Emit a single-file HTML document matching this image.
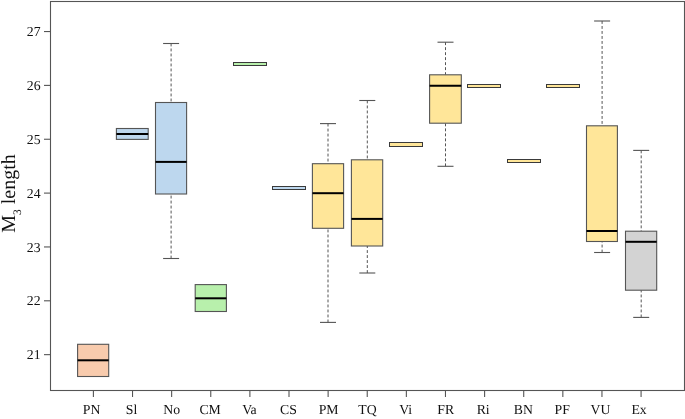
<!DOCTYPE html>
<html><head><meta charset="utf-8"><style>
html,body{margin:0;padding:0;background:#fff;overflow:hidden;}
svg{display:block;will-change:transform;text-rendering:geometricPrecision;}
.t{font-family:"Liberation Serif",serif;font-size:13.75px;fill:#111;}
.ttl{font-family:"Liberation Serif",serif;font-size:20px;fill:#111;}
.sub{font-size:11.5px;}
</style></head><body>
<svg width="685" height="419" viewBox="0 0 685 419">
<rect x="50.5" y="1.5" width="634" height="389" fill="none" stroke="#555555" stroke-width="1.1"/>
<line x1="44" y1="354.65" x2="50.5" y2="354.65" stroke="#555555" stroke-width="1.1"/>
<text x="40.6" y="359.25" text-anchor="end" class="t">21</text>
<line x1="44" y1="300.80" x2="50.5" y2="300.80" stroke="#555555" stroke-width="1.1"/>
<text x="40.6" y="305.40" text-anchor="end" class="t">22</text>
<line x1="44" y1="246.95" x2="50.5" y2="246.95" stroke="#555555" stroke-width="1.1"/>
<text x="40.6" y="251.55" text-anchor="end" class="t">23</text>
<line x1="44" y1="193.10" x2="50.5" y2="193.10" stroke="#555555" stroke-width="1.1"/>
<text x="40.6" y="197.70" text-anchor="end" class="t">24</text>
<line x1="44" y1="139.25" x2="50.5" y2="139.25" stroke="#555555" stroke-width="1.1"/>
<text x="40.6" y="143.85" text-anchor="end" class="t">25</text>
<line x1="44" y1="85.40" x2="50.5" y2="85.40" stroke="#555555" stroke-width="1.1"/>
<text x="40.6" y="90.00" text-anchor="end" class="t">26</text>
<line x1="44" y1="31.55" x2="50.5" y2="31.55" stroke="#555555" stroke-width="1.1"/>
<text x="40.6" y="36.15" text-anchor="end" class="t">27</text>
<line x1="93.40" y1="390.5" x2="93.40" y2="397" stroke="#555555" stroke-width="1.1"/>
<text x="91.60" y="414.3" text-anchor="middle" class="t">PN</text>
<line x1="132.52" y1="390.5" x2="132.52" y2="397" stroke="#555555" stroke-width="1.1"/>
<text x="131.52" y="414.3" text-anchor="middle" class="t">Sl</text>
<line x1="171.64" y1="390.5" x2="171.64" y2="397" stroke="#555555" stroke-width="1.1"/>
<text x="171.64" y="414.3" text-anchor="middle" class="t">No</text>
<line x1="210.76" y1="390.5" x2="210.76" y2="397" stroke="#555555" stroke-width="1.1"/>
<text x="210.16" y="414.3" text-anchor="middle" class="t">CM</text>
<line x1="249.88" y1="390.5" x2="249.88" y2="397" stroke="#555555" stroke-width="1.1"/>
<text x="249.48" y="414.3" text-anchor="middle" class="t">Va</text>
<line x1="289.00" y1="390.5" x2="289.00" y2="397" stroke="#555555" stroke-width="1.1"/>
<text x="288.50" y="414.3" text-anchor="middle" class="t">CS</text>
<line x1="328.12" y1="390.5" x2="328.12" y2="397" stroke="#555555" stroke-width="1.1"/>
<text x="328.62" y="414.3" text-anchor="middle" class="t">PM</text>
<line x1="367.24" y1="390.5" x2="367.24" y2="397" stroke="#555555" stroke-width="1.1"/>
<text x="367.44" y="414.3" text-anchor="middle" class="t">TQ</text>
<line x1="406.36" y1="390.5" x2="406.36" y2="397" stroke="#555555" stroke-width="1.1"/>
<text x="405.66" y="414.3" text-anchor="middle" class="t">Vi</text>
<line x1="445.48" y1="390.5" x2="445.48" y2="397" stroke="#555555" stroke-width="1.1"/>
<text x="445.68" y="414.3" text-anchor="middle" class="t">FR</text>
<line x1="484.60" y1="390.5" x2="484.60" y2="397" stroke="#555555" stroke-width="1.1"/>
<text x="483.20" y="414.3" text-anchor="middle" class="t">Ri</text>
<line x1="523.72" y1="390.5" x2="523.72" y2="397" stroke="#555555" stroke-width="1.1"/>
<text x="523.32" y="414.3" text-anchor="middle" class="t">BN</text>
<line x1="562.84" y1="390.5" x2="562.84" y2="397" stroke="#555555" stroke-width="1.1"/>
<text x="562.24" y="414.3" text-anchor="middle" class="t">PF</text>
<line x1="601.96" y1="390.5" x2="601.96" y2="397" stroke="#555555" stroke-width="1.1"/>
<text x="600.46" y="414.3" text-anchor="middle" class="t">VU</text>
<line x1="641.08" y1="390.5" x2="641.08" y2="397" stroke="#555555" stroke-width="1.1"/>
<text x="639.08" y="414.3" text-anchor="middle" class="t">Ex</text>
<rect x="77.60" y="344.30" width="31.10" height="32.20" fill="#F8CBAD" stroke="#555555" stroke-width="1.1"/>
<line x1="77.60" y1="360.30" x2="108.70" y2="360.30" stroke="#000" stroke-width="2"/>
<rect x="116.40" y="128.50" width="31.80" height="10.90" fill="#BDD7EE" stroke="#555555" stroke-width="1.1"/>
<line x1="116.40" y1="134.00" x2="148.20" y2="134.00" stroke="#000" stroke-width="2"/>
<line x1="171.10" y1="43.50" x2="171.10" y2="102.50" stroke="#555555" stroke-width="1" stroke-dasharray="2.9 2.1"/>
<line x1="171.10" y1="258.50" x2="171.10" y2="194.00" stroke="#555555" stroke-width="1" stroke-dasharray="2.9 2.1"/>
<line x1="163.10" y1="43.50" x2="179.10" y2="43.50" stroke="#555555" stroke-width="1.1"/>
<line x1="163.10" y1="258.50" x2="179.10" y2="258.50" stroke="#555555" stroke-width="1.1"/>
<rect x="155.50" y="102.50" width="31.10" height="91.50" fill="#BDD7EE" stroke="#555555" stroke-width="1.1"/>
<line x1="155.50" y1="161.90" x2="186.60" y2="161.90" stroke="#000" stroke-width="2"/>
<rect x="195.20" y="284.60" width="31.20" height="26.90" fill="#B8F0AC" stroke="#555555" stroke-width="1.1"/>
<line x1="195.20" y1="298.30" x2="226.40" y2="298.30" stroke="#000" stroke-width="2"/>
<line x1="328.00" y1="123.60" x2="328.00" y2="163.70" stroke="#555555" stroke-width="1" stroke-dasharray="2.9 2.1"/>
<line x1="328.00" y1="322.40" x2="328.00" y2="228.30" stroke="#555555" stroke-width="1" stroke-dasharray="2.9 2.1"/>
<line x1="320.00" y1="123.60" x2="336.00" y2="123.60" stroke="#555555" stroke-width="1.1"/>
<line x1="320.00" y1="322.40" x2="336.00" y2="322.40" stroke="#555555" stroke-width="1.1"/>
<rect x="312.40" y="163.70" width="31.20" height="64.60" fill="#FFE699" stroke="#555555" stroke-width="1.1"/>
<line x1="312.40" y1="193.20" x2="343.60" y2="193.20" stroke="#000" stroke-width="2"/>
<line x1="367.30" y1="100.50" x2="367.30" y2="159.80" stroke="#555555" stroke-width="1" stroke-dasharray="2.9 2.1"/>
<line x1="367.30" y1="273.00" x2="367.30" y2="246.00" stroke="#555555" stroke-width="1" stroke-dasharray="2.9 2.1"/>
<line x1="359.30" y1="100.50" x2="375.30" y2="100.50" stroke="#555555" stroke-width="1.1"/>
<line x1="359.30" y1="273.00" x2="375.30" y2="273.00" stroke="#555555" stroke-width="1.1"/>
<rect x="351.40" y="159.80" width="31.30" height="86.20" fill="#FFE699" stroke="#555555" stroke-width="1.1"/>
<line x1="351.40" y1="218.90" x2="382.70" y2="218.90" stroke="#000" stroke-width="2"/>
<line x1="445.50" y1="42.20" x2="445.50" y2="74.80" stroke="#555555" stroke-width="1" stroke-dasharray="2.9 2.1"/>
<line x1="445.50" y1="166.30" x2="445.50" y2="123.20" stroke="#555555" stroke-width="1" stroke-dasharray="2.9 2.1"/>
<line x1="437.50" y1="42.20" x2="453.50" y2="42.20" stroke="#555555" stroke-width="1.1"/>
<line x1="437.50" y1="166.30" x2="453.50" y2="166.30" stroke="#555555" stroke-width="1.1"/>
<rect x="429.60" y="74.80" width="31.70" height="48.40" fill="#FFE699" stroke="#555555" stroke-width="1.1"/>
<line x1="429.60" y1="85.85" x2="461.30" y2="85.85" stroke="#000" stroke-width="2"/>
<line x1="602.10" y1="21.00" x2="602.10" y2="125.80" stroke="#555555" stroke-width="1" stroke-dasharray="2.9 2.1"/>
<line x1="602.10" y1="252.50" x2="602.10" y2="241.50" stroke="#555555" stroke-width="1" stroke-dasharray="2.9 2.1"/>
<line x1="594.10" y1="21.00" x2="610.10" y2="21.00" stroke="#555555" stroke-width="1.1"/>
<line x1="594.10" y1="252.50" x2="610.10" y2="252.50" stroke="#555555" stroke-width="1.1"/>
<rect x="586.50" y="125.80" width="30.90" height="115.70" fill="#FFE699" stroke="#555555" stroke-width="1.1"/>
<line x1="586.50" y1="231.00" x2="617.40" y2="231.00" stroke="#000" stroke-width="2"/>
<line x1="641.20" y1="150.40" x2="641.20" y2="231.20" stroke="#555555" stroke-width="1" stroke-dasharray="2.9 2.1"/>
<line x1="641.20" y1="317.40" x2="641.20" y2="290.20" stroke="#555555" stroke-width="1" stroke-dasharray="2.9 2.1"/>
<line x1="633.20" y1="150.40" x2="649.20" y2="150.40" stroke="#555555" stroke-width="1.1"/>
<line x1="633.20" y1="317.40" x2="649.20" y2="317.40" stroke="#555555" stroke-width="1.1"/>
<rect x="625.50" y="231.20" width="31.20" height="59.00" fill="#D3D3D3" stroke="#555555" stroke-width="1.1"/>
<line x1="625.50" y1="241.80" x2="656.70" y2="241.80" stroke="#000" stroke-width="2"/>
<rect x="233" y="62" width="34" height="4" fill="#B8F0AC"/>
<rect x="233" y="62" width="34" height="1" fill="#3a3a3a"/>
<rect x="233" y="65" width="34" height="1" fill="#3a3a3a"/>
<rect x="233" y="62" width="1" height="4" fill="#3a3a3a"/>
<rect x="266" y="62" width="1" height="4" fill="#3a3a3a"/>
<rect x="272" y="186" width="34" height="4" fill="#BDD7EE"/>
<rect x="272" y="186" width="34" height="1" fill="#3a3a3a"/>
<rect x="272" y="189" width="34" height="1" fill="#3a3a3a"/>
<rect x="272" y="186" width="1" height="4" fill="#3a3a3a"/>
<rect x="305" y="186" width="1" height="4" fill="#3a3a3a"/>
<rect x="389" y="142" width="34" height="5" fill="#FFE699"/>
<rect x="389" y="142" width="34" height="1" fill="#3a3a3a"/>
<rect x="389" y="146" width="34" height="1" fill="#3a3a3a"/>
<rect x="389" y="142" width="1" height="5" fill="#3a3a3a"/>
<rect x="422" y="142" width="1" height="5" fill="#3a3a3a"/>
<rect x="467" y="84" width="34" height="4" fill="#FFE699"/>
<rect x="467" y="84" width="34" height="1" fill="#3a3a3a"/>
<rect x="467" y="87" width="34" height="1" fill="#3a3a3a"/>
<rect x="467" y="84" width="1" height="4" fill="#3a3a3a"/>
<rect x="500" y="84" width="1" height="4" fill="#3a3a3a"/>
<rect x="507" y="159" width="34" height="4" fill="#FFE699"/>
<rect x="507" y="159" width="34" height="1" fill="#3a3a3a"/>
<rect x="507" y="162" width="34" height="1" fill="#3a3a3a"/>
<rect x="507" y="159" width="1" height="4" fill="#3a3a3a"/>
<rect x="540" y="159" width="1" height="4" fill="#3a3a3a"/>
<rect x="546" y="84" width="34" height="4" fill="#FFE699"/>
<rect x="546" y="84" width="34" height="1" fill="#3a3a3a"/>
<rect x="546" y="87" width="34" height="1" fill="#3a3a3a"/>
<rect x="546" y="84" width="1" height="4" fill="#3a3a3a"/>
<rect x="579" y="84" width="1" height="4" fill="#3a3a3a"/>
<text transform="translate(15,232.8) rotate(-90)" class="ttl">M<tspan class="sub" dy="6">3</tspan><tspan dy="-6"> length</tspan></text>
</svg>
</body></html>
